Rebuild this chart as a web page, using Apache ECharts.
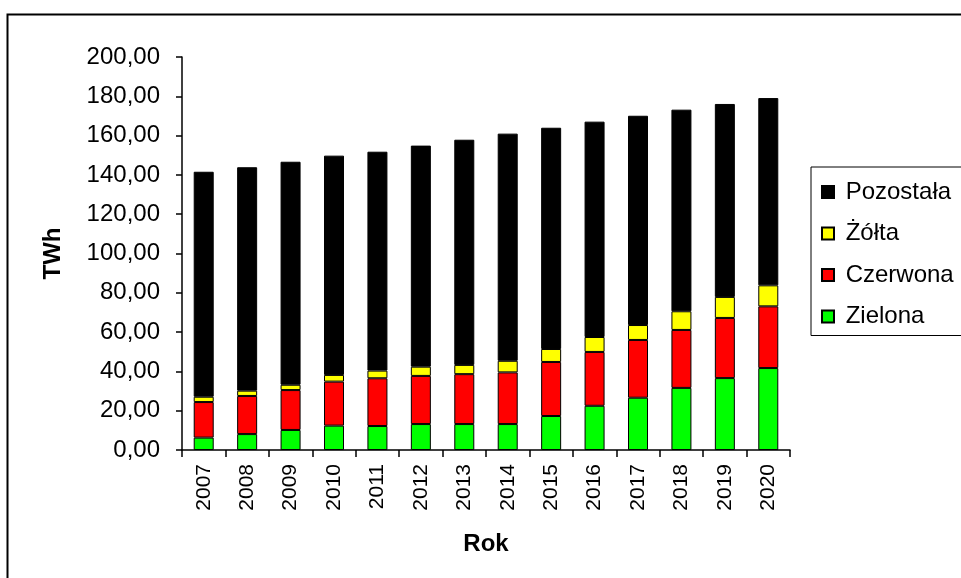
<!DOCTYPE html>
<html>
<head>
<meta charset="utf-8">
<script src="https://cdn.jsdelivr.net/npm/echarts@6/dist/echarts.min.js"></script>
<style>
html,body{margin:0;padding:0;background:#fff;}
#chart{width:961px;height:578px;}
</style>
</head>
<body>
<div id="chart"></div>
<script>
const years = ['2007','2008','2009','2010','2011','2012','2013','2014','2015','2016','2017','2018','2019','2020'];
const zielona   = [6.3, 8.1, 10.2, 12.4, 12.2, 13.2, 13.2, 13.2, 17.3, 22.5, 26.6, 31.6, 36.6, 41.7];
const czerwona  = [18.1, 19.4, 20.3, 22.4, 24.3, 24.5, 25.4, 26.3, 27.5, 27.4, 29.4, 29.5, 30.6, 31.4];
const zolta     = [2.7, 2.7, 2.7, 3.4, 3.9, 4.7, 4.7, 5.9, 6.6, 7.6, 7.6, 9.5, 10.7, 10.7];
const pozostala = [114.5, 113.7, 113.5, 111.6, 111.4, 112.5, 114.6, 115.6, 112.6, 109.6, 106.5, 102.6, 98.2, 95.3];
const seriesNames = ['Zielona', 'Czerwona', 'Żółta', 'Pozostała'];
const legendOrder = ['Pozostała', 'Żółta', 'Czerwona', 'Zielona'];
const colors = ['#00ff00', '#ff0000', '#ffff00', '#000000'];
const dataSets = [zielona, czerwona, zolta, pozostala];

const font = 'Arial, "Liberation Sans", sans-serif';
const chart = echarts.init(document.getElementById('chart'));
chart.setOption({
  animation: false,
  backgroundColor: '#fff',
  graphic: [{
    type: 'rect', left: 5, top: 12,
    shape: {width: 1000, height: 620},
    style: {fill: 'none', stroke: '#000', lineWidth: 2},
    z: -1
  }],
  grid: {left: 182, right: 171, top: 57, bottom: 128},
  legend: {
    data: legendOrder,
    orient: 'vertical',
    left: 811, top: 167,
    padding: [13, 40, 7, 10],
    itemGap: 17.5,
    itemWidth: 12, itemHeight: 12,
    icon: 'rect',
    borderColor: '#000', borderWidth: 1,
    formatter: n => ' ' + n,
    textStyle: {fontFamily: font, fontSize: 24, color: '#000', lineHeight: 24}
  },
  xAxis: {
    type: 'category',
    data: years,
    name: 'Rok',
    nameLocation: 'middle',
    nameGap: 82,
    nameTextStyle: {fontFamily: font, fontSize: 24, fontWeight: 'bold', color: '#000'},
    axisLine: {lineStyle: {color: '#000', width: 1.5}},
    axisTick: {show: true, alignWithLabel: false, length: 7, lineStyle: {color: '#000', width: 1.5}},
    axisLabel: {rotate: 90, fontFamily: font, fontSize: 21, color: '#000', margin: 14, interval: 0}
  },
  yAxis: {
    type: 'value',
    min: 0, max: 200, interval: 20,
    name: 'TWh',
    nameLocation: 'middle',
    nameGap: 117,
    nameRotate: 90,
    nameTextStyle: {fontFamily: font, fontSize: 24, fontWeight: 'bold', color: '#000'},
    axisLine: {show: true, lineStyle: {color: '#000', width: 1.5}},
    axisTick: {show: true, length: 6, lineStyle: {color: '#000', width: 1.5}},
    splitLine: {show: false},
    axisLabel: {fontFamily: font, fontSize: 24, color: '#000', margin: 22,
      formatter: v => v.toFixed(2).replace('.', ',')}
  },
  series: seriesNames.map((n, i) => ({
    name: n,
    type: 'bar',
    stack: 'total',
    data: dataSets[i],
    barWidth: 20,
    itemStyle: {color: colors[i], borderColor: '#000', borderWidth: 1}
  }))
});
</script>
</body>
</html>
